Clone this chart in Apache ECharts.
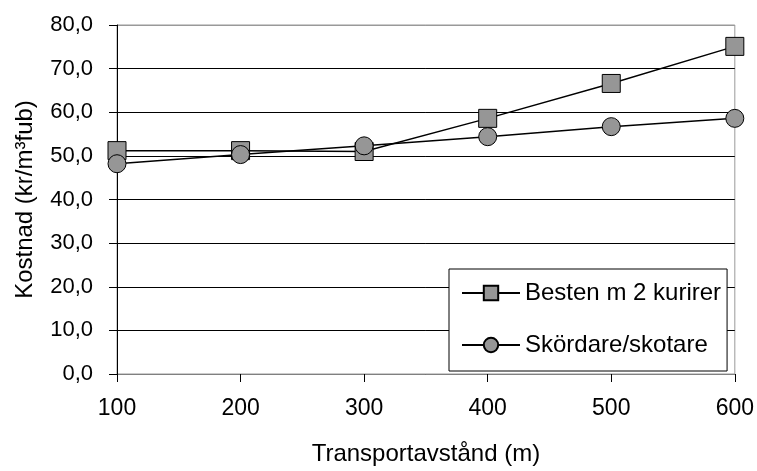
<!DOCTYPE html>
<html>
<head>
<meta charset="utf-8">
<script src="https://cdn.jsdelivr.net/npm/echarts@6/dist/echarts.min.js"></script>
<style>
  html, body { margin: 0; padding: 0; background: #fff; }
  #chart { width: 757px; height: 471px; }
</style>
</head>
<body>
<div id="chart"></div>
<script>
// transportavstånd (m)
const distances = ['100', '200', '300', '400', '500', '600'];
// kostnad (kr/m³fub)
const bestenValues = [51.2, 51.2, 51.0, 58.6, 66.6, 75.1];
const skordareValues = [48.2, 50.3, 52.3, 54.4, 56.7, 58.6];
const seriesNames = ['Besten m 2 kurirer', 'Skördare/skotare'];

const font = 'Liberation Sans, Arial, sans-serif';
const chart = echarts.init(document.getElementById('chart'));

// top gridline is the grey plot border, the rest black
const gridColors = ['#000', '#000', '#000', '#000', '#000', '#000', '#000', '#000', '#999'];

const markerStyle = {
    color: '#969696',
    borderColor: '#000',
    borderWidth: 1
};

chart.setOption({
    animation: false,
    backgroundColor: '#fff',
    textStyle: { fontFamily: font, color: '#000' },
    grid: {
        left: 117,
        right: 21,
        top: 25,
        bottom: 92,
        show: true,
        borderColor: '#999',
        borderWidth: 1
    },
    legend: {
        orient: 'vertical',
        left: 449,
        top: 269,
        padding: [12, 6, 14, 12],
        itemGap: 28,
        itemWidth: 58,
        itemHeight: 18,
        backgroundColor: '#fff',
        borderColor: '#000',
        borderWidth: 1,
        borderRadius: 0,
        textStyle: { fontFamily: font, fontSize: 24, color: '#000' },
        data: seriesNames
    },
    xAxis: {
        type: 'category',
        data: distances,
        boundaryGap: false,
        name: 'Transportavstånd (m)',
        nameLocation: 'middle',
        nameGap: 68,
        nameTextStyle: { fontFamily: font, fontSize: 24, color: '#000' },
        axisLine: { lineStyle: { color: '#808080', width: 1 } },
        axisTick: { show: true, inside: false, length: 8, alignWithLabel: true, lineStyle: { color: '#000' } },
        axisLabel: { fontFamily: font, fontSize: 23, color: '#000', margin: 23 },
        splitLine: { show: false }
    },
    yAxis: {
        type: 'value',
        min: 0,
        max: 80,
        interval: 10,
        name: 'Kostnad (kr/m³fub)',
        nameLocation: 'middle',
        nameGap: 80,
        nameRotate: 90,
        nameTextStyle: { fontFamily: font, fontSize: 24, color: '#000' },
        axisLine: { show: true, lineStyle: { color: '#000', width: 1 } },
        axisTick: { show: true, inside: false, length: 8, lineStyle: { color: '#000' } },
        axisLabel: {
            fontFamily: font,
            fontSize: 22,
            color: '#000',
            margin: 24,
            formatter: v => v.toFixed(1).replace('.', ',')
        },
        splitLine: { show: true, lineStyle: { color: gridColors, width: 1 } }
    },
    series: [
        {
            name: seriesNames[0],
            type: 'line',
            data: bestenValues,
            symbol: 'rect',
            symbolSize: 18,
            showAllSymbol: true,
            lineStyle: { color: '#000', width: 1.5 },
            itemStyle: markerStyle,
            z: 2
        },
        {
            name: seriesNames[1],
            type: 'line',
            data: skordareValues,
            symbol: 'circle',
            symbolSize: 18,
            showAllSymbol: true,
            lineStyle: { color: '#000', width: 1.5 },
            itemStyle: markerStyle,
            z: 3
        }
    ]
});
</script>
</body>
</html>
